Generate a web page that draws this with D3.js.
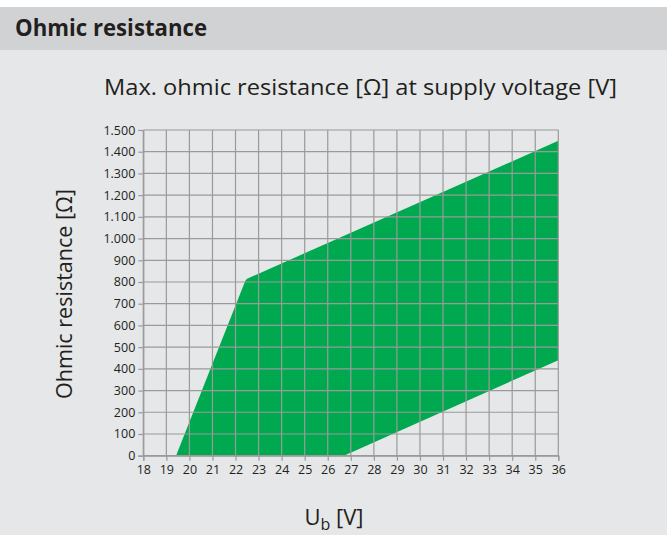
<!DOCTYPE html>
<html><head><meta charset="utf-8">
<script src="https://cdn.jsdelivr.net/npm/d3@7"></script>
<style>
html,body{margin:0;padding:0;background:#fff;}
svg{display:block;font-family:"Open Sans","Noto Sans",sans-serif;}
</style></head>
<body>
<svg id="c" width="667" height="535"></svg>
<script>
// Data
const xTicks = [18,19,20,21,22,23,24,25,26,27,28,29,30,31,32,33,34,35,36];
const yTicks = [0,100,200,300,400,500,600,700,800,900,1000,1100,1200,1300,1400,1500];
// Upper boundary (max resistance) vs voltage
const upperU = [19.42,22.42,22.50,36];
const upperR = [0,805,815,1450];
// Lower boundary (min resistance) vs voltage
const lowerU = [19.42,26.70,36];
const lowerR = [0,0,440];

const title = "Ohmic resistance";
const subtitle = "Max. ohmic resistance [Ω] at supply voltage [V]";
const yLabel = "Ohmic resistance [Ω]";

const svg = d3.select("#c");
const W = 667, H = 535;
const m = {l:143.3, r:558.3, t:130, b:455.7};

svg.append("rect").attr("x",0).attr("y",0).attr("width",W).attr("height",H).attr("fill","#e6e7e8");
svg.append("rect").attr("x",0).attr("y",0).attr("width",W).attr("height",7).attr("fill","#ffffff");
svg.append("rect").attr("x",0).attr("y",7).attr("width",W).attr("height",43).attr("fill","#d1d2d4");

svg.append("text").attr("x",15).attr("y",36).attr("font-size",23).attr("font-weight","bold")
  .attr("fill","#231f20").attr("textLength",192).attr("lengthAdjust","spacingAndGlyphs").text(title);

svg.append("text").attr("x",104).attr("y",95).attr("font-size",22.5)
  .attr("fill","#231f20").attr("textLength",513).attr("lengthAdjust","spacingAndGlyphs").text(subtitle);

const x = d3.scaleLinear().domain([18,36]).range([m.l,m.r]);
const y = d3.scaleLinear().domain([0,1500]).range([m.b,m.t]);

// area polygon
const upperPts = upperU.map((u,i)=>[u,upperR[i]]);
const lowerPts = lowerU.map((u,i)=>[u,lowerR[i]]);
const poly = upperPts.concat(lowerPts.slice().reverse());
svg.append("path")
  .attr("d", d3.line().x(d=>x(d[0])).y(d=>y(d[1]))(poly) + "Z")
  .attr("fill","#00a94f");

// grid
const g = svg.append("g");
g.selectAll(".vx").data(xTicks).join("line")
  .attr("x1",d=>x(d)).attr("x2",d=>x(d)).attr("y1",m.t).attr("y2",m.b)
  .attr("stroke","#9a9a9a").attr("stroke-width",1.2);
g.selectAll(".hy").data(yTicks).join("line")
  .attr("x1",m.l).attr("x2",m.r).attr("y1",d=>y(d)).attr("y2",d=>y(d))
  .attr("stroke","#9a9a9a").attr("stroke-width",1.2);

const loc = d3.formatLocale({decimal:",",thousands:".",grouping:[3],currency:["",""]});
const fmt = loc.format(",d");

const yAxis = d3.axisLeft(y).tickValues(yTicks).tickFormat(fmt).tickSize(5).tickPadding(3);
const ya = svg.append("g").attr("transform",`translate(${m.l},0)`).call(yAxis);
ya.select(".domain").attr("stroke","#9a9a9a").attr("stroke-width",1.2);
ya.selectAll(".tick line").attr("stroke","#9a9a9a").attr("stroke-width",1.2);
ya.selectAll(".tick text").attr("font-size",12.5).attr("fill","#231f20").attr("font-family","'Open Sans',sans-serif");

const xAxis = d3.axisBottom(x).tickValues(xTicks).tickFormat(d3.format("d")).tickSize(5).tickPadding(4);
const xa = svg.append("g").attr("transform",`translate(0,${m.b})`).call(xAxis);
xa.select(".domain").attr("stroke","#9a9a9a").attr("stroke-width",1.2);
xa.selectAll(".tick line").attr("stroke","#9a9a9a").attr("stroke-width",1.2);
xa.selectAll(".tick text").attr("font-size",12.5).attr("fill","#231f20").attr("font-family","'Open Sans',sans-serif");

// y label
svg.append("text").attr("transform","translate(72,294) rotate(-90)")
  .attr("text-anchor","middle").attr("font-size",21).attr("fill","#231f20")
  .attr("textLength",210).attr("lengthAdjust","spacingAndGlyphs").text(yLabel);

// x label
const xl = svg.append("text").attr("x",334).attr("y",525).attr("text-anchor","middle")
  .attr("font-size",22).attr("fill","#231f20");
xl.append("tspan").text("U");
xl.append("tspan").attr("font-size",16).attr("dy",5).text("b");
xl.append("tspan").attr("dy",-5).text(" [V]");
</script>
</body></html>
